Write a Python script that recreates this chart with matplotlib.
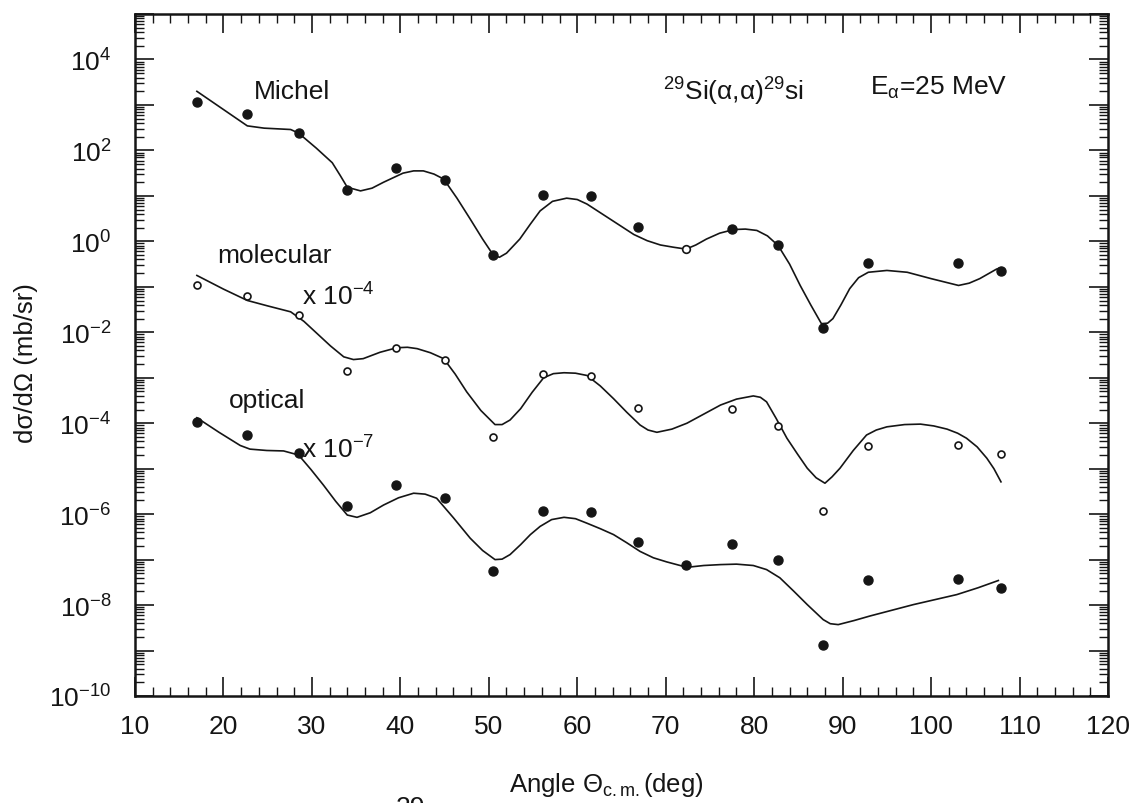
import numpy as np
import matplotlib
matplotlib.use("Agg")
import matplotlib.pyplot as plt
from matplotlib.ticker import LogLocator, FixedLocator, MultipleLocator, FuncFormatter, NullFormatter

plt.rcParams['font.family'] = ['Liberation Sans', 'DejaVu Sans']
plt.rcParams['mathtext.fontset'] = 'custom'
plt.rcParams['mathtext.rm'] = 'Liberation Sans'
plt.rcParams['mathtext.it'] = 'Liberation Sans:italic'
plt.rcParams['mathtext.default'] = 'regular'

# measured angles (deg)
angles = [17.0, 22.7, 28.5, 34.0, 39.5, 45.0, 50.5, 56.1, 61.5, 66.9,
          72.3, 77.5, 82.7, 87.8, 92.9, 103.0, 107.9]

# Michel data (filled), the 72.3 deg point is drawn open
michel_angles = [17.0, 22.7, 28.5, 34.0, 39.5, 45.0, 50.5, 56.1, 61.5, 66.9,
                 77.5, 82.7, 87.8, 92.9, 103.0, 107.9]
michel_data = [1.16e3, 6.2e2, 2.4e2, 13.5, 42, 22, 0.49, 10.5, 10, 2.1,
               1.9, 0.85, 0.0126, 0.34, 0.34, 0.22]
michel_open_angles = [72.3]
michel_open_data = [0.68]

# molecular data x 1e-4 (open)
mol_angles = [17.0, 22.7, 28.5, 34.0, 39.5, 45.0, 50.5, 56.1, 61.5, 66.9,
              77.5, 82.7, 87.8, 92.9, 103.0, 107.9]
mol_data = [0.107, 0.062, 0.0245, 1.44e-3, 4.5e-3, 2.5e-3, 5e-5, 1.18e-3,
            1.07e-3, 2.2e-4, 2.1e-4, 8.9e-5, 1.17e-6, 3.2e-5, 3.3e-5, 2.1e-5]

# optical data x 1e-7 (filled)
opt_data = [1.07e-4, 5.6e-5, 2.2e-5, 1.5e-6, 4.3e-6, 2.3e-6, 5.5e-8, 1.15e-6,
            1.1e-6, 2.4e-7, 7.7e-8, 2.24e-7, 9.6e-8, 1.3e-9, 3.6e-8, 3.8e-8, 2.4e-8]

# calculated curves (angle, log10 of cross section)
michel_fit_x = [17.0, 20.0, 22.7, 24.6, 27.6, 28.5, 30.5, 32.3, 33.2, 34.0, 35.5, 36.8,
                38.1, 40.3, 41.5, 42.6, 43.8, 44.9, 46.4, 47.9, 49.3, 50.5, 51.2, 52.0,
                53.5, 54.7, 55.8, 57.2, 58.8, 60.0, 61.1, 63.0, 64.9, 66.4, 67.9, 69.4,
                70.9, 72.3, 73.4, 74.6, 76.1, 77.7, 79.0, 80.3, 81.5, 82.7, 84.0, 85.2,
                86.4, 87.6, 88.3, 88.9, 89.8, 90.8, 91.8, 92.9, 95.0, 97.3, 100.0, 103.1,
                104.3, 105.5, 107.4, 107.9]
michel_fit_log = [3.30, 2.90, 2.54, 2.49, 2.46, 2.38, 2.05, 1.73, 1.45, 1.19, 1.11, 1.17,
                  1.30, 1.50, 1.55, 1.55, 1.48, 1.37, 0.95, 0.49, 0.05, -0.30, -0.35, -0.26,
                  0.05, 0.38, 0.67, 0.88, 0.95, 0.92, 0.82, 0.58, 0.34, 0.15, 0.015, -0.08,
                  -0.13, -0.17, -0.08, 0.05, 0.18, 0.26, 0.27, 0.24, 0.12, -0.09, -0.50, -0.97,
                  -1.40, -1.81, -1.80, -1.70, -1.40, -1.04, -0.80, -0.68, -0.64, -0.68, -0.82, -0.97,
                  -0.92, -0.82, -0.61, -0.58]

mol_fit_x = [17.0, 20.0, 22.7, 25.0, 27.6, 29.1, 30.6, 32.1, 33.6, 34.7, 35.8, 37.7,
             39.6, 40.8, 41.9, 43.4, 44.9, 46.2, 47.5, 49.1, 50.7, 51.5, 52.4, 53.6,
             54.9, 56.2, 57.3, 58.5, 59.8, 61.1, 62.6, 64.1, 65.6, 67.1, 68.0, 69.0,
             70.7, 72.4, 74.3, 76.2, 78.0, 79.9, 80.7, 81.4, 82.5, 83.7, 84.9, 86.0,
             87.0, 88.0, 88.8, 89.7, 91.2, 92.7, 93.8, 95.0, 97.0, 98.8, 100.3, 101.8,
             103.0, 104.0, 105.2, 106.3, 107.1, 107.9]
mol_fit_log = [-0.75, -1.05, -1.30, -1.42, -1.55, -1.76, -2.03, -2.30, -2.54, -2.60, -2.58, -2.44,
               -2.34, -2.33, -2.36, -2.45, -2.58, -2.92, -3.31, -3.72, -4.03, -4.03, -3.93, -3.68,
               -3.32, -3.00, -2.91, -2.89, -2.90, -2.95, -3.18, -3.46, -3.76, -4.04, -4.15, -4.20,
               -4.13, -4.00, -3.80, -3.60, -3.47, -3.40, -3.43, -3.53, -3.90, -4.33, -4.68, -4.99,
               -5.20, -5.32, -5.18, -4.99, -4.60, -4.26, -4.15, -4.08, -4.03, -4.02, -4.06, -4.13,
               -4.22, -4.33, -4.52, -4.77, -5.00, -5.29]

opt_fit_x = [17.0, 19.5, 21.9, 23.0, 24.9, 26.8, 28.5, 29.9, 31.3, 32.7, 34.0, 35.1,
             36.6, 38.1, 39.8, 41.5, 42.8, 44.1, 46.0, 47.9, 49.3, 50.7, 51.5, 52.4,
             53.6, 54.7, 55.8, 57.1, 58.5, 59.8, 61.1, 62.6, 64.1, 65.6, 67.1, 68.6,
             70.1, 72.4, 74.3, 76.2, 78.0, 79.9, 81.4, 82.9, 84.5, 86.0, 87.8, 88.6,
             89.5, 91.3, 93.1, 98.0, 102.9, 105.3, 107.6]
opt_fit_log = [-3.88, -4.20, -4.49, -4.57, -4.60, -4.61, -4.70, -5.02, -5.36, -5.72, -6.02, -6.07,
               -5.97, -5.80, -5.64, -5.54, -5.56, -5.65, -6.08, -6.53, -6.80, -7.00, -6.99, -6.89,
               -6.67, -6.45, -6.27, -6.12, -6.07, -6.10, -6.20, -6.32, -6.45, -6.63, -6.82, -6.96,
               -7.05, -7.17, -7.13, -7.11, -7.10, -7.13, -7.22, -7.40, -7.70, -7.99, -8.32, -8.41,
               -8.43, -8.34, -8.24, -7.99, -7.77, -7.62, -7.46]

xticks = [10, 20, 30, 40, 50, 60, 70, 80, 90, 100, 110, 120]

ink = '#151515'
fig = plt.figure(figsize=(11.39, 8.04), dpi=100)
ax = fig.add_axes([0.1185, 0.1331, 0.8543, 0.8482])
ax.set_yscale('log')
ax.set_xlim(10, 120)
ax.set_ylim(1e-10, 1e5)

# curves
ax.plot(michel_fit_x, np.power(10.0, michel_fit_log), color=ink, lw=1.2)
ax.plot(mol_fit_x, np.power(10.0, mol_fit_log), color=ink, lw=1.2)
ax.plot(opt_fit_x, np.power(10.0, opt_fit_log), color=ink, lw=1.2)

# data points
ax.plot(michel_angles, michel_data, 'o', color=ink, ms=6.5, ls='none')
ax.plot(michel_open_angles, michel_open_data, 'o', mfc='white', mec=ink, mew=1.2, ms=5.5, ls='none')
ax.plot(mol_angles, mol_data, 'o', mfc='white', mec=ink, mew=1.2, ms=5, ls='none')
ax.plot(angles, opt_data, 'o', color=ink, ms=6.5, ls='none')

# labels inside the frame
fs = 19
ax.text(23.4, 10**3.145, 'Michel', fontsize=fs, color=ink, va='baseline')
ax.text(19.3, 10**-0.45, 'molecular', fontsize=fs, color=ink, va='baseline')
ax.text(28.9, 10**-1.39, 'x 10$^{-4}$', fontsize=fs, color=ink, va='baseline')
ax.text(20.6, 10**-3.65, 'optical', fontsize=fs, color=ink, va='baseline')
ax.text(28.9, 10**-4.75, 'x 10$^{-7}$', fontsize=fs, color=ink, va='baseline')
ax.text(69.7, 10**3.12, '$^{29}$Si(α,α)$^{29}$si', fontsize=fs, color=ink, va='baseline')
ax.text(93.1, 10**3.25, 'E$_{α}$=25 MeV', fontsize=fs, color=ink, va='baseline')

# ticks
ax.xaxis.set_major_locator(FixedLocator(xticks))
ax.xaxis.set_minor_locator(MultipleLocator(2))
ax.yaxis.set_major_locator(LogLocator(base=10, numticks=30))
ax.yaxis.set_minor_locator(LogLocator(base=10, subs=np.arange(2, 10), numticks=30))
ax.yaxis.set_minor_formatter(NullFormatter())


def ylab(v, pos):
    e = int(round(np.log10(v)))
    if e % 2:
        return ''
    return '10$^{%d}$' % e


ax.yaxis.set_major_formatter(FuncFormatter(ylab))
ax.tick_params(which='both', direction='in', top=True, right=True, colors=ink)
ax.tick_params(which='major', length=14, width=1.2, labelsize=19)
ax.tick_params(which='minor', length=6.5, width=1.0)
ax.tick_params(axis='x', which='major', pad=13)
ax.tick_params(axis='y', which='major', pad=17)
for s in ax.spines.values():
    s.set_linewidth(1.8)
    s.set_color(ink)

ax.set_xlabel('Angle Θ$_{c.m.}$(deg)', fontsize=18.5, color=ink)
ax.set_ylabel('dσ/dΩ (mb/sr)', fontsize=18.5, color=ink)
ax.xaxis.set_label_coords(0.484, -0.108)
ax.yaxis.set_label_coords(-0.1, 0.49)

# caption cut off at the bottom edge of the scan
fig.text(410 / 1139, 1 - 796 / 804, '29', fontsize=19, color=ink, va='top', ha='center')

fig.savefig('out.png', dpi=100)
